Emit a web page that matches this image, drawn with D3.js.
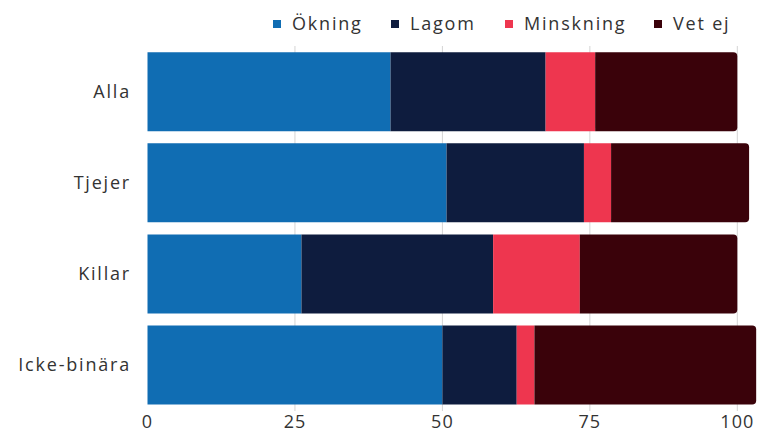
<!DOCTYPE html>
<html>
<head>
<meta charset="utf-8">
<script src="https://cdn.jsdelivr.net/npm/d3@7"></script>
<style>
  body { margin: 0; background: #fff; }
  svg { display: block; font-family: "Open Sans", sans-serif; }
</style>
</head>
<body>
<svg id="chart"></svg>
<script>
// Data
const groups = ["Alla", "Tjejer", "Killar", "Icke-binära"];
const seriesNames = ["Ökning", "Lagom", "Minskning", "Vet ej"];
const okning = [41.2, 50.7, 26.1, 50.0];
const lagom = [26.3, 23.3, 32.5, 12.6];
const minskning = [8.4, 4.6, 14.7, 3.0];
const vetEj = [24.1, 23.4, 26.7, 37.6];
const ticks = [0, 25, 50, 75, 100];

const colors = ["#106db3", "#0e1c3e", "#ee364f", "#3a020a"];

// Set width and height
const width = 758;
const height = 432;

const svg = d3.select("#chart")
    .attr("width", width)
    .attr("height", height);

const rows = groups.map((g, i) => ({
    group: g, "Ökning": okning[i], "Lagom": lagom[i], "Minskning": minskning[i], "Vet ej": vetEj[i]
}));
const stacked = d3.stack().keys(seriesNames)(rows);

const x = d3.scaleLinear().domain([0, 100]).range([147.5, 737.3]);
const y = d3.scaleBand().domain(groups).range([46.2, 410.6])
    .paddingInner(0.133).paddingOuter(0.0665);

// grid
svg.append("g")
    .selectAll("line")
    .data(ticks.slice(1))
    .join("line")
    .attr("x1", d => x(d)).attr("x2", d => x(d))
    .attr("y1", 46).attr("y2", 411)
    .attr("stroke", "#d4d4d4")
    .attr("stroke-width", 1);

// bars
const radius = 4;
stacked.forEach((layer, k) => {
    const last = k === stacked.length - 1;
    svg.append("g")
        .attr("fill", colors[k])
        .selectAll("path")
        .data(layer)
        .join("path")
        .attr("d", d => {
            const x0 = x(d[0]), x1 = x(d[1]);
            const y0 = y(d.data.group), y1 = y0 + y.bandwidth();
            if (!last) return `M${x0},${y0}H${x1}V${y1}H${x0}Z`;
            return `M${x0},${y0}H${x1 - radius}Q${x1},${y0} ${x1},${y0 + radius}` +
                `V${y1 - radius}Q${x1},${y1} ${x1 - radius},${y1}H${x0}Z`;
        });
});

// y labels
svg.append("g")
    .selectAll("text")
    .data(groups)
    .join("text")
    .attr("x", 131)
    .attr("y", d => y(d) + y.bandwidth() / 2)
    .attr("dy", "0.35em")
    .attr("text-anchor", "end")
    .attr("fill", "#333")
    .style("font-size", "18px")
    .style("letter-spacing", "1.8px")
    .text(d => d);

// x axis labels
svg.append("g")
    .selectAll("text")
    .data(ticks)
    .join("text")
    .attr("x", d => x(d))
    .attr("y", 422)
    .attr("dy", "0.35em")
    .attr("text-anchor", "middle")
    .attr("fill", "#333")
    .style("font-size", "18px")
    .style("letter-spacing", "1px")
    .text(d => d);

// legend
const legendX = [273, 391, 505, 654];
const legend = svg.append("g")
    .selectAll("g")
    .data(seriesNames)
    .join("g")
    .attr("transform", (d, i) => `translate(${legendX[i]},24)`);
legend.append("rect")
    .attr("x", 0).attr("y", -4)
    .attr("width", 8).attr("height", 8)
    .attr("fill", (d, i) => colors[i]);
legend.append("text")
    .attr("x", 19)
    .attr("dy", "0.35em")
    .attr("fill", "#333")
    .style("font-size", "18px")
    .style("letter-spacing", "1.8px")
    .text(d => d);
</script>
</body>
</html>
